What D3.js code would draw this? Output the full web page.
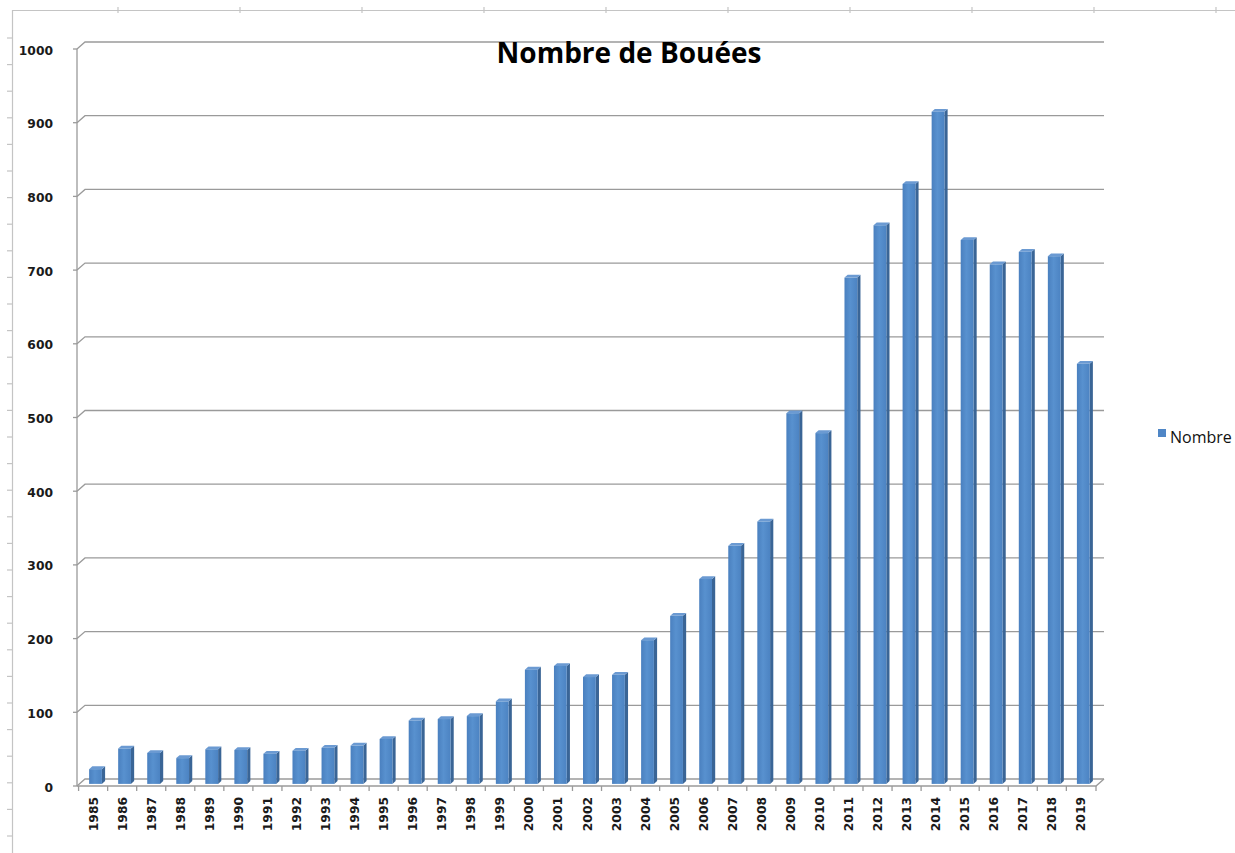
<!DOCTYPE html>
<html>
<head>
<meta charset="utf-8">
<script src="https://cdn.jsdelivr.net/npm/d3@7"></script>
<style>
  html, body { margin: 0; padding: 0; background: #fff; overflow: hidden; }
  svg { display: block; }
</style>
</head>
<body>
<div id="chart"></div>
<script>
(function () {
  'use strict';

  // Data
  const years = ['1985', '1986', '1987', '1988', '1989', '1990', '1991', '1992', '1993', '1994',
    '1995', '1996', '1997', '1998', '1999', '2000', '2001', '2002', '2003', '2004',
    '2005', '2006', '2007', '2008', '2009', '2010', '2011', '2012', '2013', '2014',
    '2015', '2016', '2017', '2018', '2019'];
  const nombre = [20, 48, 42, 35, 47, 46, 41, 45, 49, 52,
    61, 86, 88, 92, 112, 155, 160, 145, 148, 195,
    228, 278, 323, 356, 503, 476, 687, 758, 814, 912,
    738, 705, 722, 716, 570];
  const yTicks = [0, 100, 200, 300, 400, 500, 600, 700, 800, 900, 1000];
  const title = 'Nombre de Bouées';
  const seriesName = 'Nombre';

  const width = 1235;
  const height = 853;

  // 3D depth offset of the back wall
  const depth = { dx: 8, dy: -7 };
  const off = (t) => [depth.dx * t, depth.dy * t];

  const svg = d3.select('#chart')
    .append('svg')
    .attr('width', width)
    .attr('height', height);

  const defs = svg.append('defs');
  const grad = defs.append('linearGradient')
    .attr('id', 'barFront')
    .attr('x1', '0').attr('x2', '1').attr('y1', '0').attr('y2', '0');
  grad.append('stop').attr('offset', '0%').attr('stop-color', '#4a80bf');
  grad.append('stop').attr('offset', '45%').attr('stop-color', '#5891cf');
  grad.append('stop').attr('offset', '100%').attr('stop-color', '#4c83c2');

  // Outer sheet frame (ruler-like border)
  const frame = svg.append('g').attr('stroke', '#c4c4c4').attr('stroke-width', 1.2);
  frame.append('line').attr('x1', 12).attr('x2', width).attr('y1', 10.5).attr('y2', 10.5);
  frame.append('line').attr('x1', 12.5).attr('x2', 12.5).attr('y1', 10).attr('y2', height);
  frame.selectAll('.lt').data(d3.range(38, height, 26.6)).enter().append('line')
    .attr('x1', 7).attr('x2', 12).attr('y1', d => d).attr('y2', d => d);
  frame.selectAll('.tt').data(d3.range(118, width, 122)).enter().append('line')
    .attr('x1', d => d).attr('x2', d => d).attr('y1', 7).attr('y2', 13);

  // Scales (front plane)
  const x = d3.scaleBand()
    .domain(years)
    .range([78, 1096])
    .paddingInner(0.56)
    .paddingOuter(0.3);

  const y = d3.scaleLinear()
    .domain([0, 1000])
    .range([786, 49]);

  const x0 = x.range()[0] - 1;
  const x1 = x.range()[1];
  const gridColor = '#9a9a9a';

  // Gridlines on back wall + connectors to front axis
  const grid = svg.append('g').attr('fill', 'none').attr('stroke', gridColor).attr('stroke-width', 1.3);
  grid.selectAll('.gl').data(yTicks).enter().append('path')
    .attr('d', d => {
      const [bx, by] = off(1);
      return `M${x0},${y(d)} L${x0 + bx},${y(d) + by} L${x1 + bx},${y(d) + by}`;
    });

  // Floor front edge + right edge
  const [fbx, fby] = off(1);
  grid.append('path')
    .attr('d', `M${x0},${y(0)} L${x1},${y(0)} L${x1 + fbx},${y(0) + fby}`);

  // Front vertical axis
  grid.append('line')
    .attr('x1', x0).attr('x2', x0)
    .attr('y1', y(0)).attr('y2', y(1000));
  grid.selectAll('.yt').data(yTicks).enter().append('line')
    .attr('x1', x0 - 4).attr('x2', x0)
    .attr('y1', d => y(d)).attr('y2', d => y(d));

  // X ticks at band boundaries
  const step = x.step();
  const bounds = years.map(yr => x(yr) - step * x.paddingInner() / 2);
  bounds.push(x1);
  grid.selectAll('.xt').data(bounds).enter().append('line')
    .attr('x1', d => d).attr('x2', d => d)
    .attr('y1', y(0)).attr('y2', y(0) + 5);

  // Bars (3D columns)
  const data = years.map((yr, i) => ({ yr, v: nombre[i] }));
  const tF = 0.3, tB = 0.7;
  const [fx, fy] = off(tF);
  const [bx2, by2] = off(tB);
  const bw = x.bandwidth();

  const bars = svg.append('g').selectAll('.bar').data(data).enter().append('g').attr('class', 'bar');

  // right side face
  bars.append('path')
    .attr('fill', '#3a6596')
    .attr('d', d => {
      const xl = x(d.yr) + fx + bw;
      const yt = y(d.v) + fy;
      const yb = y(0) + fy;
      return `M${xl},${yb} L${xl},${yt} L${xl + bx2 - fx},${yt + by2 - fy} L${xl + bx2 - fx},${yb + by2 - fy} Z`;
    });
  // top face
  bars.append('path')
    .attr('fill', '#6b9ad2')
    .attr('d', d => {
      const xl = x(d.yr) + fx;
      const yt = y(d.v) + fy;
      const ddx = bx2 - fx, ddy = by2 - fy;
      return `M${xl},${yt} L${xl + bw},${yt} L${xl + bw + ddx},${yt + ddy} L${xl + ddx},${yt + ddy} Z`;
    });
  // front face
  bars.append('rect')
    .attr('fill', 'url(#barFront)')
    .attr('x', d => x(d.yr) + fx)
    .attr('y', d => y(d.v) + fy)
    .attr('width', bw)
    .attr('height', d => y(0) - y(d.v));

  // Y labels
  svg.append('g').selectAll('text').data(yTicks).enter().append('text')
    .attr('x', 53)
    .attr('y', d => y(d) + 5.5)
    .attr('text-anchor', 'end')
    .attr('font-family', 'DejaVu Sans, Verdana, sans-serif')
    .attr('font-weight', 'bold')
    .attr('font-size', '12.3px')
    .attr('fill', '#1a1a1a')
    .text(d => d);

  // X labels (vertical)
  svg.append('g').selectAll('text').data(years).enter().append('text')
    .attr('transform', d => `translate(${x(d) + bw / 2 + 4.5},797) rotate(-90)`)
    .attr('text-anchor', 'end')
    .attr('font-family', 'DejaVu Sans, Verdana, sans-serif')
    .attr('font-weight', 'bold')
    .attr('font-size', '12.3px')
    .attr('fill', '#1a1a1a')
    .text(d => d);

  // Title
  svg.append('text')
    .attr('x', 629)
    .attr('y', 63)
    .attr('text-anchor', 'middle')
    .attr('font-family', '"Open Sans", Lato, sans-serif')
    .attr('font-weight', 'bold')
    .attr('font-size', '28px')
    .attr('fill', '#000')
    .text(title);

  // Legend
  const legend = svg.append('g').attr('transform', 'translate(1158,429)');
  legend.append('rect').attr('width', 8).attr('height', 8).attr('fill', '#4f86c6');
  legend.append('text')
    .attr('x', 12).attr('y', 14)
    .attr('font-family', '"Open Sans", Lato, sans-serif')
    .attr('font-size', '16px')
    .attr('fill', '#111')
    .text(seriesName);
})();
</script>
</body>
</html>
